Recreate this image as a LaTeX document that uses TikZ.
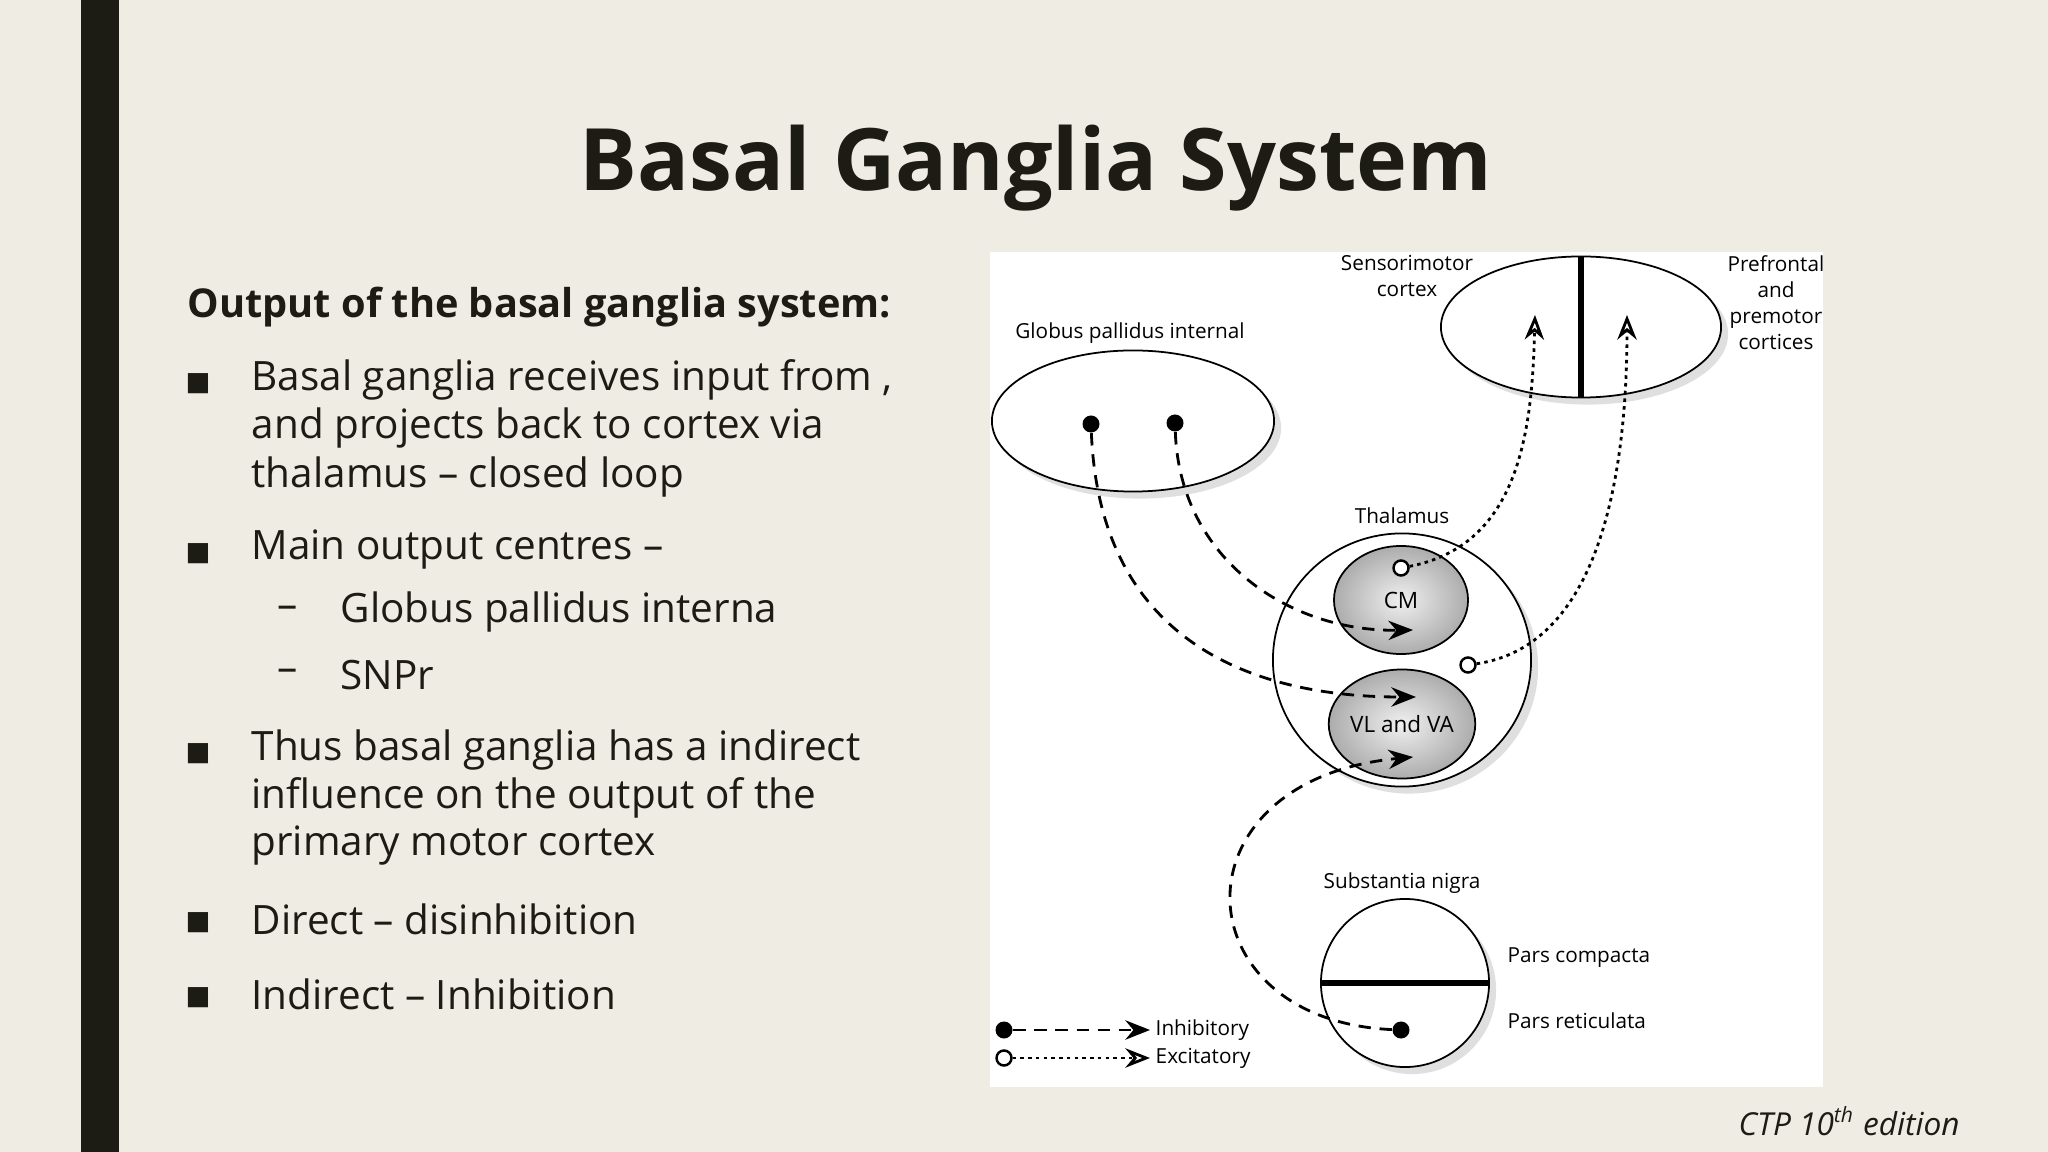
\documentclass[tikz,border=0pt]{standalone}
\usepackage{fontspec}
\setmainfont{Open Sans}
\newfontfamily\dejavu{DejaVu Sans}
\usetikzlibrary{arrows.meta,shadows,shapes.geometric}
\definecolor{bg}{HTML}{EFECE4}
\definecolor{bar}{HTML}{1C1C14}
\definecolor{ink}{HTML}{1C1C14}
\def\pu{0.28453pt}
\begin{document}
\begin{tikzpicture}[x=0.01cm,y=-0.01cm,
  body/.style={anchor=west,inner sep=0,font=\fontsize{11.5}{13}\selectfont,text=ink},
  bul/.style={anchor=center,inner sep=0,font=\dejavu\fontsize{7.5}{8}\selectfont,text=ink},
  lab/.style={inner sep=0,font=\fontsize{5.9}{7.4}\selectfont,align=center},
  shell/.style={draw,line width=0.5pt,fill=white,drop shadow={opacity=0.25,shadow xshift=2pt,shadow yshift=-2pt}},
  nuc/.style={draw,line width=0.5pt,inner color=gray!12,outer color=gray!65},
  inh/.style={line width=0.8pt,dash pattern=on 3.5pt off 2.5pt,-{Stealth[length=7pt,width=5.5pt]}},
  exc/.style={line width=0.8pt,dash pattern=on 1pt off 1.2pt,-{Stealth[open,length=7pt,width=5.5pt]}},
  fdot/.style={circle,fill=black,inner sep=0,minimum size=17*\pu},
  odot/.style={circle,draw,fill=white,line width=0.7pt,inner sep=0,minimum size=15*\pu}]
\fill[bg] (0,0) rectangle (2048,1152);
\useasboundingbox (0,0) rectangle (2048,1152);
\fill[bar] (81,0) rectangle (119,1152);
\node[font=\bfseries\fontsize{24.5}{28}\selectfont,text=ink] (title) at (1036,168) {Basal Ganglia System};
\node[body,font=\bfseries\fontsize{11.3}{13}\selectfont] (h) at (187,307) {Output of the basal ganglia system:};
\foreach \y/\t [count=\i] in {380/Basal ganglia receives input from {,},428/and projects back to cortex via,477/thalamus – closed loop,550/Main output centres –,750/Thus basal ganglia has a indirect,798/influence on the output of the,846/primary motor cortex,919/Direct – disinhibition,994/Indirect – Inhibition}
  \node[body] (t\i) at (251,\y) {\t};
\foreach \y [count=\i] in {380,550,750,919,994} \node[bul] (b\i) at (198,\y+4) {■};
\node[body] (d1) at (277,612) {–}; \node[body] (s1) at (340,612) {Globus pallidus interna};
\node[body] (d2) at (277,675) {–}; \node[body] (s2) at (340,675) {SNPr};
\node[anchor=east,font=\itshape\fontsize{9}{10}\selectfont,text=ink] (ctp) at (1972,1121) {CTP 10\textsuperscript{th} edition};
% panel
\fill[white] (990,252) rectangle (1823,1087);
% shapes
\node[shell,ellipse,minimum width=282*\pu,minimum height=141*\pu] (gpi) at (1133,421) {};
\node[shell,ellipse,minimum width=280*\pu,minimum height=141*\pu] (ctx) at (1581,327) {};
\draw[line width=1.6pt] (ctx.north) -- (ctx.south);
\node[shell,ellipse,minimum width=258*\pu,minimum height=253*\pu] (thal) at (1402,660) {};
\node[nuc,ellipse,minimum width=134*\pu,minimum height=108*\pu,lab,font=\fontsize{6.4}{7}\selectfont] (cm) at (1401,600) {CM};
\node[nuc,ellipse,minimum width=133*\pu,minimum height=109*\pu,lab,font=\fontsize{6.4}{7}\selectfont] (vl) at (1402,724) {VL and VA};
\node[shell,circle,minimum size=168*\pu] (sn) at (1405,983) {};
\draw[line width=1.6pt] (sn.west) -- (sn.east);
% labels
\node[lab] (lgpi) at (1130,333) {Globus pallidus internal};
\node[lab] (lsm) at (1407,276) {Sensorimotor\\cortex};
\node[lab] (lpf) at (1776,303) {Prefrontal\\and\\premotor\\cortices};
\node[lab] (lth) at (1402,516) {Thalamus};
\node[lab] (lsn) at (1402,883) {Substantia nigra};
\node[lab,anchor=west] (lpc) at (1507,958) {Pars compacta};
\node[lab,anchor=west] (lpr) at (1507,1021) {Pars reticulata};
% dots and targets
\node[fdot] (g1) at (1091,424) {};
\node[fdot] (g2) at (1175,423) {};
\node[fdot] (snd) at (1401,1030) {};
\node[odot] (o1) at (1401,568) {};
\node[odot] (o2) at (1468,665) {};
\coordinate (a1) at (1413,630);
\coordinate (a2) at (1416,697);
\coordinate (a3) at (1413,757);
\coordinate (c1) at (1535,315);
\coordinate (c2) at (1627,315);
\draw[inh] (g2) .. controls (1180,560) and (1290,632) .. (a1);
\draw[inh] (g1) .. controls (1100,640) and (1250,697) .. (a2);
\draw[inh] (snd) .. controls (1180,1020) and (1170,780) .. (a3);
\draw[exc] (o1) .. controls (1520,545) and (1532,430) .. (c1);
\draw[exc] (o2) .. controls (1605,645) and (1627,460) .. (c2);
% legend
\node[fdot] (l1) at (1004,1030) {};
\coordinate (l1e) at (1150,1030);
\node[lab,anchor=west] (li) at (1155,1030) {Inhibitory};
\node[odot] (l2) at (1004,1058) {};
\coordinate (l2e) at (1150,1058);
\node[lab,anchor=west] (le) at (1155,1058) {Excitatory};
\draw[inh] (l1) -- (l1e);
\draw[exc] (l2) -- (l2e);
\end{tikzpicture}
\end{document}
